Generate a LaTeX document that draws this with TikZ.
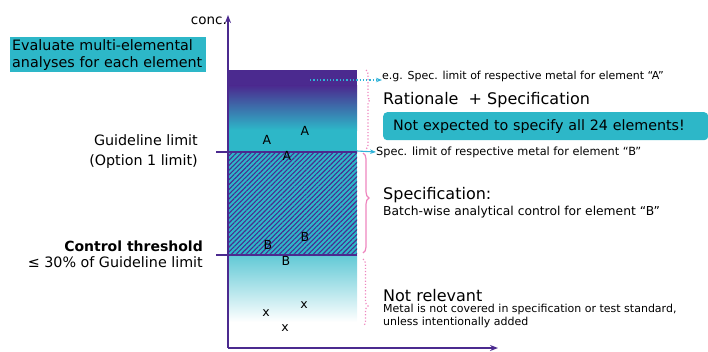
\documentclass[tikz,border=0pt]{standalone}
\usepackage{fontspec}
\setmainfont{DejaVu Sans}
\usepackage{xcolor}
\usetikzlibrary{positioning, arrows.meta, decorations.pathreplacing, patterns.meta}

\definecolor{conpurple}{HTML}{4B2A8F}
\definecolor{conteal}{HTML}{2DB7C8}
\definecolor{conpink}{HTML}{EE86BE}
\definecolor{concyan}{HTML}{2FB2D8}

\tikzset{
  lim/.style={draw=conpurple, line width=2.8pt},
  tag/.style={anchor=west, inner sep=0pt, font=\fontsize{11}{13}\selectfont},
  head/.style={anchor=west, inner sep=0pt, font=\fontsize{16}{18}\selectfont},
  side/.style={anchor=east, inner sep=0pt, font=\fontsize{14.3}{20}\selectfont},
  elem/.style={inner sep=0pt, font=\fontsize{12.5}{14}\selectfont},
  tealbox/.style={fill=conteal, inner sep=2pt},
  pbrace/.style={draw=conpink, line width=1.2pt, decorate},
}

\begin{document}
\begin{tikzpicture}[x=1pt, y=-1pt]
    \useasboundingbox (0,0) rectangle (708,351);
%   bands of the concentration column
    \fill[conpurple] (228,70) rectangle (357,86);
    \shade[top color=conpurple, bottom color=conteal] (228,85.5) rectangle (357,130);
    \fill[conteal] (228,129.5) rectangle (357,152);
    \fill[conteal] (228,152) rectangle (357,255);
    \fill[pattern={Lines[angle=45, distance=3.4pt, line width=1.1pt]}, pattern color=conpurple] (228,152) rectangle (357,255);
    \shade[top color=conteal!75, bottom color=white] (228,255) rectangle (357,322);
%   axes
    \coordinate (O) at (228,348);
    \coordinate (ytop) at (228,15);
    \coordinate (xend) at (498,348);
    \draw[conpurple, line width=2.8pt, -{Stealth[length=8pt]}] (O) -- (ytop);
    \draw[conpurple, line width=2.8pt, -{Stealth[length=8pt]}] (O) -- (xend);
    \node[inner sep=0pt, anchor=south east, font=\fontsize{13.5}{15}\selectfont] (conc) at (227,25) {conc.};
%   limits
    \coordinate (gl) at (216,152);
    \coordinate (gr) at (357,152);
    \coordinate (cl) at (216,255);
    \coordinate (cr) at (357,255);
    \draw[lim] (gl) -- (gr);
    \draw[lim] (cl) -- (cr);
%   left side
    \node[tealbox, anchor=north west, align=left, font=\fontsize{14.3}{17}\selectfont, text width=192pt] (eval) at (10,37) {Evaluate multi-elemental\\analyses for each element};
    \node[side, align=right] (guide) at (198,152) {Guideline limit\\(Option 1 limit)};
    \node[side, font=\fontsize{14}{16}\selectfont\bfseries] (ctrl) at (203,246) {Control threshold};
    \node[side, below=5pt of ctrl.south east, anchor=north east] (pct) {≤ 30\% of Guideline limit};
%   elements
    \node[elem] (a1) at (267,140) {A};
    \node[elem] (a2) at (305,131) {A};
    \node[elem] (a3) at (287,156) {A};
    \node[elem] (b1) at (268,245) {B};
    \node[elem] (b2) at (305,237) {B};
    \node[elem] (b3) at (286,261) {B};
    \node[elem] (x1) at (266,313) {x};
    \node[elem] (x2) at (304,305) {x};
    \node[elem] (x3) at (285,328) {x};
%   right side
    \node[tag] (specA) at (382,76) {e.g. Spec. limit of respective metal for element “A”};
    \node[head] (rat) at (383,100) {Rationale\ \ + Specification};
    \node[tealbox, rounded corners=4pt, anchor=north west, minimum width=325pt, minimum height=28pt, inner xsep=10pt, text width=305pt, font=\fontsize{14.3}{16}\selectfont] (notexp) at (383,112) {Not expected to specify all 24 elements!};
    \node[tag, font=\fontsize{11.3}{13}\selectfont] (specB) at (376,152) {Spec. limit of respective metal for element “B”};
    \node[head] (spec) at (383,195) {Specification:};
    \node[tag, font=\fontsize{12.3}{14}\selectfont, below=3pt of spec.south west, anchor=north west] (batch) {Batch-wise analytical control for element “B”};
    \node[head] (notrel) at (383,296) {Not relevant};
    \node[tag, align=left, font=\fontsize{11}{12.5}\selectfont, below=2pt of notrel.south west, anchor=north west] (metal) {Metal is not covered in specification or test standard,\\unless intentionally added};
%   pointers and braces
    \coordinate (pa) at (310,80);
    \coordinate (pb) at (357,151);
    \draw[concyan, dotted, line width=1.3pt, -{Stealth[length=6pt]}] (pa) -- (specA.west |- pa);
    \draw[concyan, line width=1.1pt, -{Stealth[length=6pt]}] (pb) -- (specB.west);
    \draw[pbrace, dotted, decoration={brace, amplitude=4pt, aspect=0.38}] (366,70) -- (366,149);
    \draw[pbrace, decoration={brace, amplitude=6pt, aspect=0.45}] (363,153) -- (363,253);
    \draw[pbrace, dotted, decoration={brace, amplitude=5pt, aspect=0.7}] (363,259) -- (363,326);
\end{tikzpicture}
\end{document}
